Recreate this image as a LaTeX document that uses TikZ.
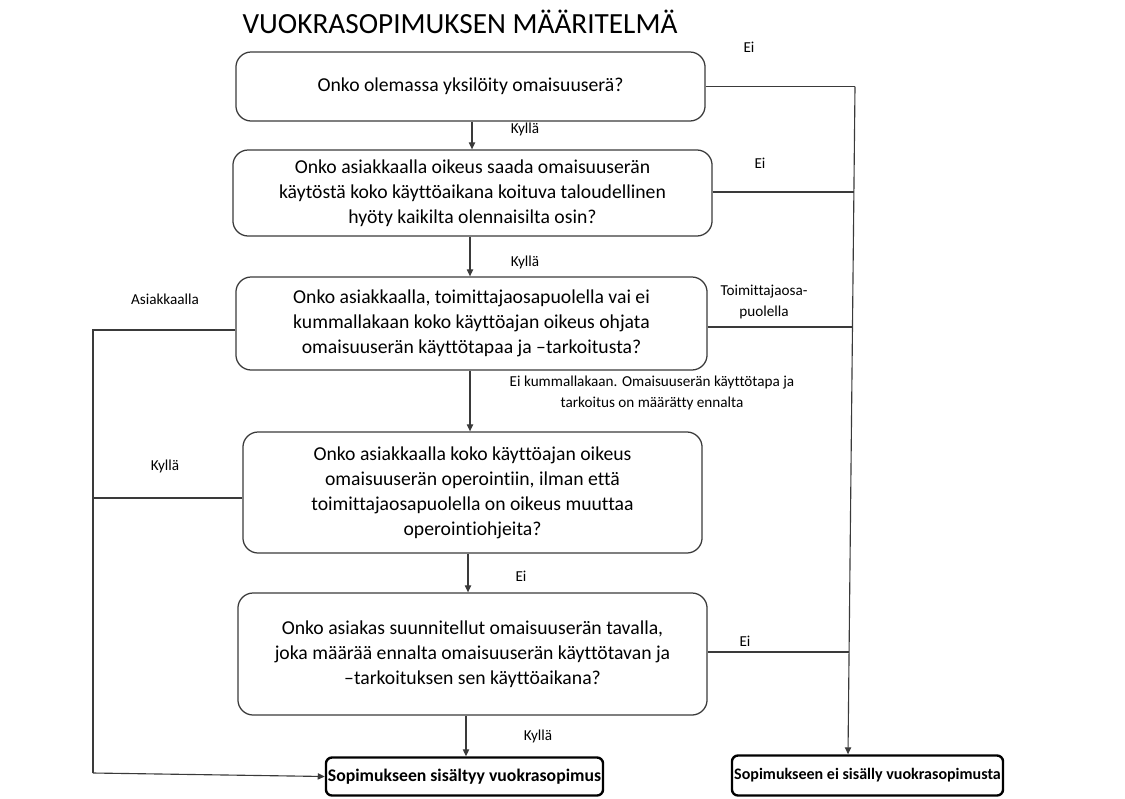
\documentclass[tikz,border=0pt]{standalone}
\usepackage{fontspec}
\setmainfont[Ligatures=NoCommon]{Carlito}
\usetikzlibrary{arrows.meta,calc}
\definecolor{linegray}{HTML}{3A3A3A}
\tikzset{
  qbox/.style={draw=linegray, line width=0.9pt, rounded corners=0.38cm, align=center,
    font=\fontsize{14}{17.8}\selectfont, inner sep=0pt},
  endbox/.style={draw=black, line width=1.7pt, rounded corners=0.15cm, align=center,
    inner sep=0pt},
  conn/.style={draw=linegray, line width=0.8pt},
  arr/.style={conn, -{Triangle[length=5pt,width=4.5pt]}},
  lbl/.style={font=\fontsize{10.8}{14.5}\selectfont, align=center, inner sep=0pt},
  ttl/.style={font=\fontsize{20.8}{24}\selectfont, inner sep=0pt}
}
\begin{document}
\begin{tikzpicture}[x=0.025cm,y=-0.025cm]
\useasboundingbox (0,0) rectangle (1125,798);
\node[ttl] (title) at (460,22) {VUOKRASOPIMUKSEN MÄÄRITELMÄ};

\node[qbox, minimum width=11.725cm, minimum height=1.725cm] (b1) at (470.5,86.5)
  {Onko olemassa yksilöity omaisuuserä?};
\node[qbox, minimum width=11.975cm, minimum height=2.15cm] (b2) at (472.5,193)
  {Onko asiakkaalla oikeus saada omaisuuserän\\käytöstä koko käyttöaikana koituva taloudellinen\\hyöty kaikilta olennaisilta osin?};
\node[qbox, minimum width=11.775cm, minimum height=2.325cm] (b3) at (471.5,323.5)
  {Onko asiakkaalla, toimittajaosapuolella vai ei\\kummallakaan koko käyttöajan oikeus ohjata\\omaisuuserän käyttötapaa ja –tarkoitusta?};
\node[qbox, minimum width=11.475cm, minimum height=3.025cm] (b4) at (472.5,492.5)
  {Onko asiakkaalla koko käyttöajan oikeus\\omaisuuserän operointiin, ilman että\\toimittajaosapuolella on oikeus muuttaa\\operointiohjeita?};
\node[qbox, minimum width=11.725cm, minimum height=3.05cm] (b5) at (472.5,654)
  {Onko asiakas suunnitellut omaisuuserän tavalla,\\joka määrää ennalta omaisuuserän käyttötavan ja\\–tarkoituksen sen käyttöaikana?};

\node[endbox, font=\bfseries\fontsize{12.6}{15}\selectfont,
  minimum width=6.925cm, minimum height=0.95cm] (r1) at (464.5,776.5)
  {Sopimukseen sisältyy vuokrasopimus};
\node[endbox, font=\bfseries\fontsize{11.4}{14}\selectfont,
  minimum width=6.775cm, minimum height=1.0cm] (r2) at (867.5,775.5)
  {Sopimukseen ei sisälly vuokrasopimusta};

% vertical flow
\draw[arr] (b1.south -| 472,0) -- (b2.north -| 472,0);
\draw[arr] (b2.south -| 470,0) -- (b3.north -| 470,0);
\draw[arr] (b3.south -| 470,0) -- (b4.north -| 470,0);
\draw[arr] (b4.south -| 468,0) -- (b5.north -| 468,0);
\draw[arr] (b5.south -| 466,0) -- (r1.north -| 466,0);

% right trunk
\coordinate (rt) at (b1.east -| 855,0);
\coordinate (rb) at (848,755);
\coordinate (p2) at ($(rt)!{106/668}!(rb)$);
\coordinate (p3) at ($(rt)!{240/668}!(rb)$);
\coordinate (p5) at ($(rt)!{565/668}!(rb)$);
\coordinate (e2) at ($(b2.east)+(0,-1)$);
\coordinate (e3) at ($(b3.east)+(0,3.5)$);
\coordinate (e5) at ($(b5.east)+(0,-2)$);
\draw[conn] (b1.east) -- (rt);
\draw[conn] (e2) -- (e2 -| p2);
\draw[conn] (e3) -- (e3 -| p3);
\draw[conn] (e5) -- (e5 -| p5);
\draw[arr] (rt) -- (rb |- r2.north);

% left trunk
\coordinate (w3) at ($(b3.west)+(0,6.5)$);
\coordinate (w4) at ($(b4.west)+(0,5.5)$);
\coordinate (lt) at (w3 -| 93,0);
\coordinate (lm) at (w4 -| 93,0);
\coordinate (lb) at (93,773);
\draw[conn] (w3) -- (lt) -- (lb);
\draw[conn] (w4) -- (lm);
\draw[arr] (lb) -- (r1.west);

% labels
\node[lbl] (l1) at (749,47) {Ei};
\node[lbl] (l2) at (525,129) {Kyllä};
\node[lbl] (l3) at (760,163) {Ei};
\node[lbl] (l4) at (525,262) {Kyllä};
\node[lbl] (l5) at (165,299) {Asiakkaalla};
\node[lbl] (l6) at (764,302) {Toimittajaosa-\\puolella};
\node[lbl] (l7) at (652,393) {Ei kummallakaan. Omaisuuserän käyttötapa ja\\tarkoitus on määrätty ennalta};
\node[lbl] (l8) at (165,466) {Kyllä};
\node[lbl] (l9) at (521,576) {Ei};
\node[lbl] (l10) at (745,641) {Ei};
\node[lbl] (l11) at (538,736) {Kyllä};
\end{tikzpicture}
\end{document}
